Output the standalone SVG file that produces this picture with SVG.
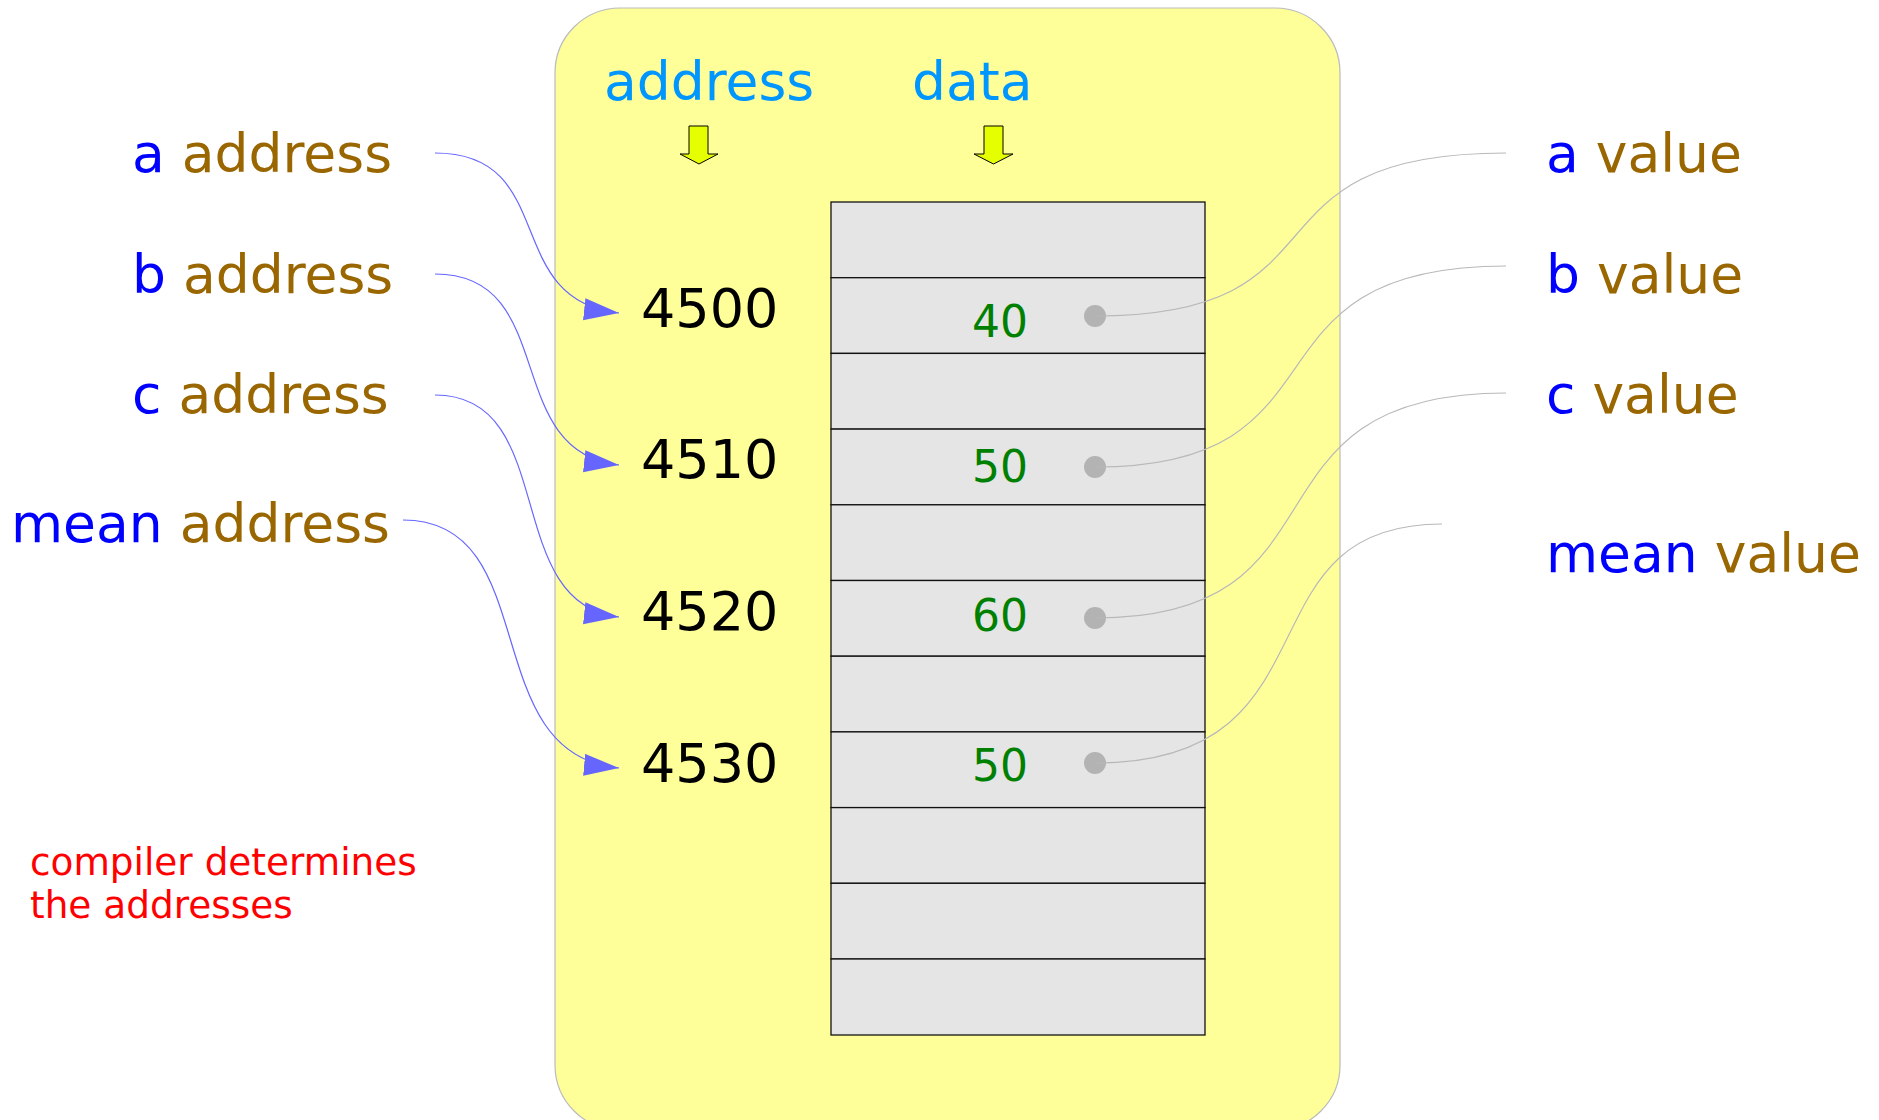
<svg xmlns="http://www.w3.org/2000/svg" width="1879" height="1120" viewBox="0 0 1879 1120">
<style>
text{font-family:"DejaVu Sans","Liberation Sans",sans-serif}
.lbl{font-size:53.5px}
.var{fill:#0000ff}
.kind{fill:#996600}
.hdr{font-size:53.5px;fill:#0096ff}
.addr{font-size:54px;fill:#000}
.val{font-size:44px;fill:#008000;text-anchor:middle}
.cell{fill:#e5e5e5;stroke:#111;stroke-width:1.3}
.dot{fill:#b3b3b3}
.ptr{fill:none;stroke:#6666ff;stroke-width:1.2}
.ref{fill:none;stroke:#b8b8b8;stroke-width:1.2}
.blk{fill:#e6ff00;stroke:#000;stroke-width:1}
.note{font-size:37.4px;fill:#ff0000}
</style>
<defs>
<marker id="ah" markerUnits="userSpaceOnUse" markerWidth="36" markerHeight="24" refX="35" refY="11" orient="auto">
<path d="M0,0 L35,11 L0,22 z" fill="#6666ff"/>
</marker>
</defs>

<g id="memory">
<rect x="555" y="8" width="785" height="1122" rx="65" ry="65" fill="#ffff99" stroke="#bbbbbb" stroke-width="1.2"/>
</g>

<g id="headers">
<text class="hdr" x="604" y="100">address</text>
<text class="hdr" x="912" y="100">data</text>
<polygon class="blk" points="689,126 708,126 708,154 718,154 699,164 680,154 689,154"/>
<polygon class="blk" points="984,126 1003,126 1003,154 1013,154 993.5,164 974,154 984,154"/>
</g>

<g id="table">
<rect class="cell" x="831" y="202" width="374" height="75.7"/>
<rect class="cell" x="831" y="277.7" width="374" height="75.7"/>
<rect class="cell" x="831" y="353.4" width="374" height="75.7"/>
<rect class="cell" x="831" y="429.1" width="374" height="75.7"/>
<rect class="cell" x="831" y="504.8" width="374" height="75.7"/>
<rect class="cell" x="831" y="580.5" width="374" height="75.7"/>
<rect class="cell" x="831" y="656.2" width="374" height="75.7"/>
<rect class="cell" x="831" y="731.9" width="374" height="75.7"/>
<rect class="cell" x="831" y="807.6" width="374" height="75.7"/>
<rect class="cell" x="831" y="883.3" width="374" height="75.7"/>
<rect class="cell" x="831" y="959" width="374" height="76"/>
</g>

<g id="cell-a">
<text class="val" x="1000" y="337">40</text>
<circle class="dot" cx="1095" cy="316" r="11"/>
</g>
<g id="cell-b">
<text class="val" x="1000" y="482">50</text>
<circle class="dot" cx="1095" cy="467" r="11"/>
</g>
<g id="cell-c">
<text class="val" x="1000" y="631">60</text>
<circle class="dot" cx="1095" cy="618" r="11"/>
</g>
<g id="cell-mean">
<text class="val" x="1000" y="781">50</text>
<circle class="dot" cx="1095" cy="763" r="11"/>
</g>

<g id="addresses">
<text id="addr-4500" class="addr" x="641" y="327">4500</text>
<text id="addr-4510" class="addr" x="641" y="478">4510</text>
<text id="addr-4520" class="addr" x="641" y="630">4520</text>
<text id="addr-4530" class="addr" x="641" y="782">4530</text>
</g>

<g id="left-labels">
<text id="a-address" class="lbl" x="132" y="172"><tspan class="var">a</tspan> <tspan class="kind">address</tspan></text>
<text id="b-address" class="lbl" x="132" y="293"><tspan class="var">b</tspan> <tspan class="kind">address</tspan></text>
<text id="c-address" class="lbl" x="132" y="413"><tspan class="var">c</tspan> <tspan class="kind">address</tspan></text>
<text id="mean-address" class="lbl" x="11" y="542"><tspan class="var">mean</tspan> <tspan class="kind">address</tspan></text>
</g>

<g id="right-labels">
<text id="a-value" class="lbl" x="1546" y="172"><tspan class="var">a</tspan> <tspan class="kind">value</tspan></text>
<text id="b-value" class="lbl" x="1546" y="293"><tspan class="var">b</tspan> <tspan class="kind">value</tspan></text>
<text id="c-value" class="lbl" x="1546" y="413"><tspan class="var">c</tspan> <tspan class="kind">value</tspan></text>
<text id="mean-value" class="lbl" x="1546" y="572"><tspan class="var">mean</tspan> <tspan class="kind">value</tspan></text>
</g>

<g id="note">
<text class="note" x="30" y="875">compiler determines</text>
<text class="note" x="30" y="918">the addresses</text>
</g>

<g id="connectors">
<path class="ptr" d="M435,153 C560,153 500,300 619,313" marker-end="url(#ah)"/>
<path class="ptr" d="M435,274 C560,274 500,452 619,465" marker-end="url(#ah)"/>
<path class="ptr" d="M435,395 C560,395 500,604 619,617" marker-end="url(#ah)"/>
<path class="ptr" d="M403,520 C545,520 475,755 619,768" marker-end="url(#ah)"/>
<path class="ref" d="M1095,316 C1360,316 1230,153 1506,153"/>
<path class="ref" d="M1095,467 C1360,467 1230,266 1506,266"/>
<path class="ref" d="M1095,618 C1360,618 1230,393 1506,393"/>
<path class="ref" d="M1095,763 C1345,763 1235,524 1442,524"/>
</g>
</svg>
